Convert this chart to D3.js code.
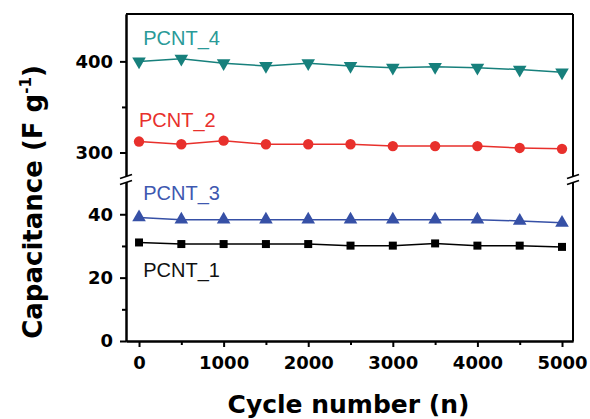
<!DOCTYPE html>
<html>
<head>
<meta charset="utf-8">
<script src="https://cdn.jsdelivr.net/npm/d3@7"></script>
<style>
  body { margin: 0; background: #fff; }
  svg text { font-family: "DejaVu Sans", sans-serif; }
  .tick text { font-weight: bold; font-size: 18px; fill: #000; }
  .axis path, .axis line { stroke: #000; stroke-width: 2; }
  .label { font-family: "Liberation Sans", Arial, sans-serif !important; font-size: 20px; }
</style>
</head>
<body>
<div id="chart-area"></div>
<script>
const cycles = [0, 500, 1000, 1500, 2000, 2500, 3000, 3500, 4000, 4500, 5000];
const pcnt1 = [31.1, 30.6, 30.6, 30.6, 30.6, 30.1, 30.1, 30.8, 30.1, 30.1, 29.7];
const pcnt3 = [39.0, 38.3, 38.3, 38.3, 38.3, 38.3, 38.3, 38.3, 38.3, 37.9, 37.3];
const pcnt2 = [312, 309, 313, 309, 309, 309, 307, 307, 307, 305, 304];
const pcnt4 = [400, 403, 398, 395, 398, 395, 393, 394, 393, 391, 388];
const xTicks = [0, 1000, 2000, 3000, 4000, 5000];
const lowTicks = [0, 20, 40];
const highTicks = [300, 400];

const series = [
  { name: 'PCNT_1', values: pcnt1, part: 'low', color: '#000000', text: '#111111', symbol: d3.symbolSquare, size: 64, rot: 0, lx: 50, ly: 20.2 },
  { name: 'PCNT_3', values: pcnt3, part: 'low', color: '#3650a6', text: '#3e58b0', symbol: d3.symbolTriangle, size: 80, rot: 0, lx: 50, ly: 44.5 },
  { name: 'PCNT_2', values: pcnt2, part: 'high', color: '#e8302c', text: '#e8302c', symbol: d3.symbolCircle, size: 85, rot: 0, lx: 0, ly: 328 },
  { name: 'PCNT_4', values: pcnt4, part: 'high', color: '#17807c', text: '#2a9a98', symbol: d3.symbolTriangle, size: 80, rot: 180, lx: 50, ly: 418 }
];

const drawChart = () => {
  const svg = d3.select('#chart-area').append('svg')
    .attr('width', 590).attr('height', 419);

  const left = 126, right = 573, top = 14, bottom = 341;
  const breakHi = 178, breakLo = 181;

  const x = d3.scaleLinear().domain([-154, 5130]).range([left, right]);
  const yHigh = d3.scaleLinear().domain([272, 452]).range([breakHi, top]);
  const yLow = d3.scaleLinear().domain([0, 50.5]).range([bottom, breakLo]);
  const yOf = s => s.part === 'low' ? yLow : yHigh;

  // frame: top and right lines
  svg.append('line').attr('x1', left).attr('x2', right).attr('y1', top).attr('y2', top)
    .attr('stroke', '#000').attr('stroke-width', 2);
  svg.append('line').attr('x1', right).attr('x2', right).attr('y1', top).attr('y2', bottom)
    .attr('stroke', '#000').attr('stroke-width', 2);

  // x axis
  svg.append('g').attr('class', 'axis')
    .attr('transform', `translate(0,${bottom})`)
    .call(d3.axisBottom(x).tickValues(d3.range(500, 5000, 1000)).tickSize(4).tickFormat('').tickSizeOuter(0));
  svg.append('g').attr('class', 'axis')
    .attr('transform', `translate(0,${bottom})`)
    .call(d3.axisBottom(x).tickValues(xTicks).tickFormat(d3.format('d'))
      .tickSize(6).tickPadding(9).tickSizeOuter(0));

  // y axes (two segments)
  svg.append('g').attr('class', 'axis')
    .attr('transform', `translate(${left},0)`)
    .call(d3.axisLeft(yLow).tickValues([10, 30]).tickSize(4).tickFormat('').tickSizeOuter(0));
  svg.append('g').attr('class', 'axis')
    .attr('transform', `translate(${left},0)`)
    .call(d3.axisLeft(yLow).tickValues(lowTicks).tickSize(6).tickPadding(7).tickSizeOuter(0));
  svg.append('g').attr('class', 'axis')
    .attr('transform', `translate(${left},0)`)
    .call(d3.axisLeft(yHigh).tickValues([350]).tickSize(4).tickFormat('').tickSizeOuter(0));
  svg.append('g').attr('class', 'axis')
    .attr('transform', `translate(${left},0)`)
    .call(d3.axisLeft(yHigh).tickValues(highTicks).tickSize(6).tickPadding(7).tickSizeOuter(0));

  // break marks on both vertical axes
  const by = (breakHi + breakLo) / 2;
  [left, right].forEach(ax => {
    svg.append('path')
      .attr('d', `M${ax - 6},${by - 1} L${ax + 6},${by - 5} L${ax + 6},${by + 1} L${ax - 6},${by + 5} Z`)
      .attr('fill', '#fff');
    svg.append('line').attr('x1', ax - 6).attr('y1', by - 1).attr('x2', ax + 6).attr('y2', by - 5)
      .attr('stroke', '#000').attr('stroke-width', 1.6);
    svg.append('line').attr('x1', ax - 6).attr('y1', by + 5).attr('x2', ax + 6).attr('y2', by + 1)
      .attr('stroke', '#000').attr('stroke-width', 1.6);
  });

  // series
  series.forEach(s => {
    const y = yOf(s);
    const line = d3.line().x((d, i) => x(cycles[i])).y(d => y(d));
    svg.append('path').datum(s.values)
      .attr('d', line).attr('fill', 'none')
      .attr('stroke', s.color).attr('stroke-width', 1.5);
    svg.selectAll(null).data(s.values).enter().append('path')
      .attr('d', d3.symbol().type(s.symbol).size(s.size))
      .attr('transform', (d, i) => `translate(${x(cycles[i])},${y(d)}) rotate(${s.rot})`)
      .attr('fill', s.color);
    svg.append('text').attr('class', 'label')
      .attr('x', x(s.lx)).attr('y', y(s.ly))
      .attr('fill', s.text)
      .text(s.name);
  });

  // axis titles
  svg.append('text')
    .attr('x', (left + right) / 2 - 1).attr('y', 413)
    .attr('text-anchor', 'middle')
    .attr('font-weight', 'bold').attr('font-size', 25)
    .text('Cycle number (n)');

  const yt = svg.append('text')
    .attr('transform', 'translate(42,202) rotate(-90)')
    .attr('text-anchor', 'middle')
    .attr('font-weight', 'bold').attr('font-size', 26);
  yt.append('tspan').text('Capacitance (F g');
  yt.append('tspan').attr('font-size', 15).attr('dy', -11).text('-1');
  yt.append('tspan').attr('dy', 11).text(')');
}

window.onload = drawChart;
</script>
</body>
</html>
